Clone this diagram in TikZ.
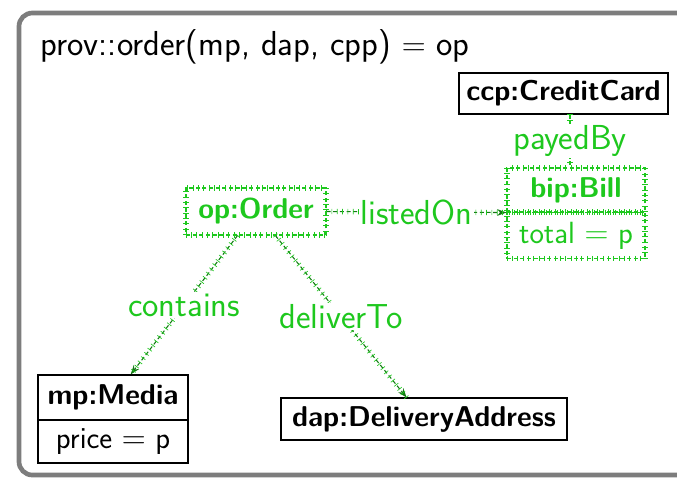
\documentclass[tikz,border=0pt]{standalone}
\usepackage{fontspec}
\usetikzlibrary{arrows.meta,decorations.pathreplacing}
\definecolor{G}{RGB}{30,200,30}
\definecolor{GD}{RGB}{20,120,20}
\definecolor{frame}{RGB}{125,125,125}
\tikzset{
  ticked/.style={draw=G, densely dashed, line width=0.8pt,
    postaction={decorate, draw=G, solid, line width=0.5pt, arrows=-,
      decoration={ticks, segment length=4pt, amplitude=2pt}}},
  boldfont/.style={font=\fontsize{21.5}{25}\selectfont\sffamily\bfseries},
  blackbox/.style={draw=black, line width=0.8pt, boldfont, inner sep=0pt},
  greenbox/.style={ticked, text=G, inner sep=0pt},
  attr/.style={font=\fontsize{23}{27}\selectfont\sffamily},
  rel/.style={ticked, -{Stealth[length=7pt,width=5pt]}, GD},
  plainrel/.style={ticked},
  lbl/.style={fill=white, text=G, font=\fontsize{26}{30}\selectfont\sffamily, inner sep=1pt}
}
\begin{document}
\begin{tikzpicture}[x=0.75pt,y=-0.75pt]
\useasboundingbox (0,0) rectangle (677,480);
\clip (0,0) rectangle (677,480);
\draw[frame, line width=3.5pt, rounded corners=10pt] (19,13) rectangle (720,475);
\node[anchor=base west, font=\fontsize{26}{30}\selectfont\sffamily] (title) at (36,55) {prov::order(mp, dap, cpp) $=$ op};

\node[blackbox, minimum width=156.75pt, minimum height=30.75pt] (ccp) at (563.5,93.5) {ccp:CreditCard};

\node[greenbox, minimum width=105pt, minimum height=35.25pt, boldfont] (op) at (256,211.5) {op:Order};

\node[greenbox, minimum width=103.5pt, minimum height=33pt, boldfont] (billt) at (576,190) {bip:Bill};
\node[greenbox, minimum width=103.5pt, minimum height=34.5pt, attr] (billb) at (576,235.5) {total $=$ p};

\node[blackbox, minimum width=112.5pt, minimum height=33.75pt] (mpt) at (113,397.5) {mp:Media};
\node[draw=black, line width=0.8pt, inner sep=0pt, minimum width=112.5pt, minimum height=32.25pt, attr] (mpb) at (113,441.5) {price $=$ p};

\node[blackbox, minimum width=214.5pt, minimum height=31.5pt] (dap) at (424,419) {dap:DeliveryAddress};

\draw[rel] (op.east) -- node[lbl] {listedOn} (billt.south west);
\draw[plainrel] (ccp.south -| 570,0) -- node[lbl] {payedBy} (billt.north -| 570,0);
\draw[rel] (op) -- node[lbl] {contains} (mpt);
\draw[rel] (op) -- node[lbl] {deliverTo} (dap);
\end{tikzpicture}
\end{document}
